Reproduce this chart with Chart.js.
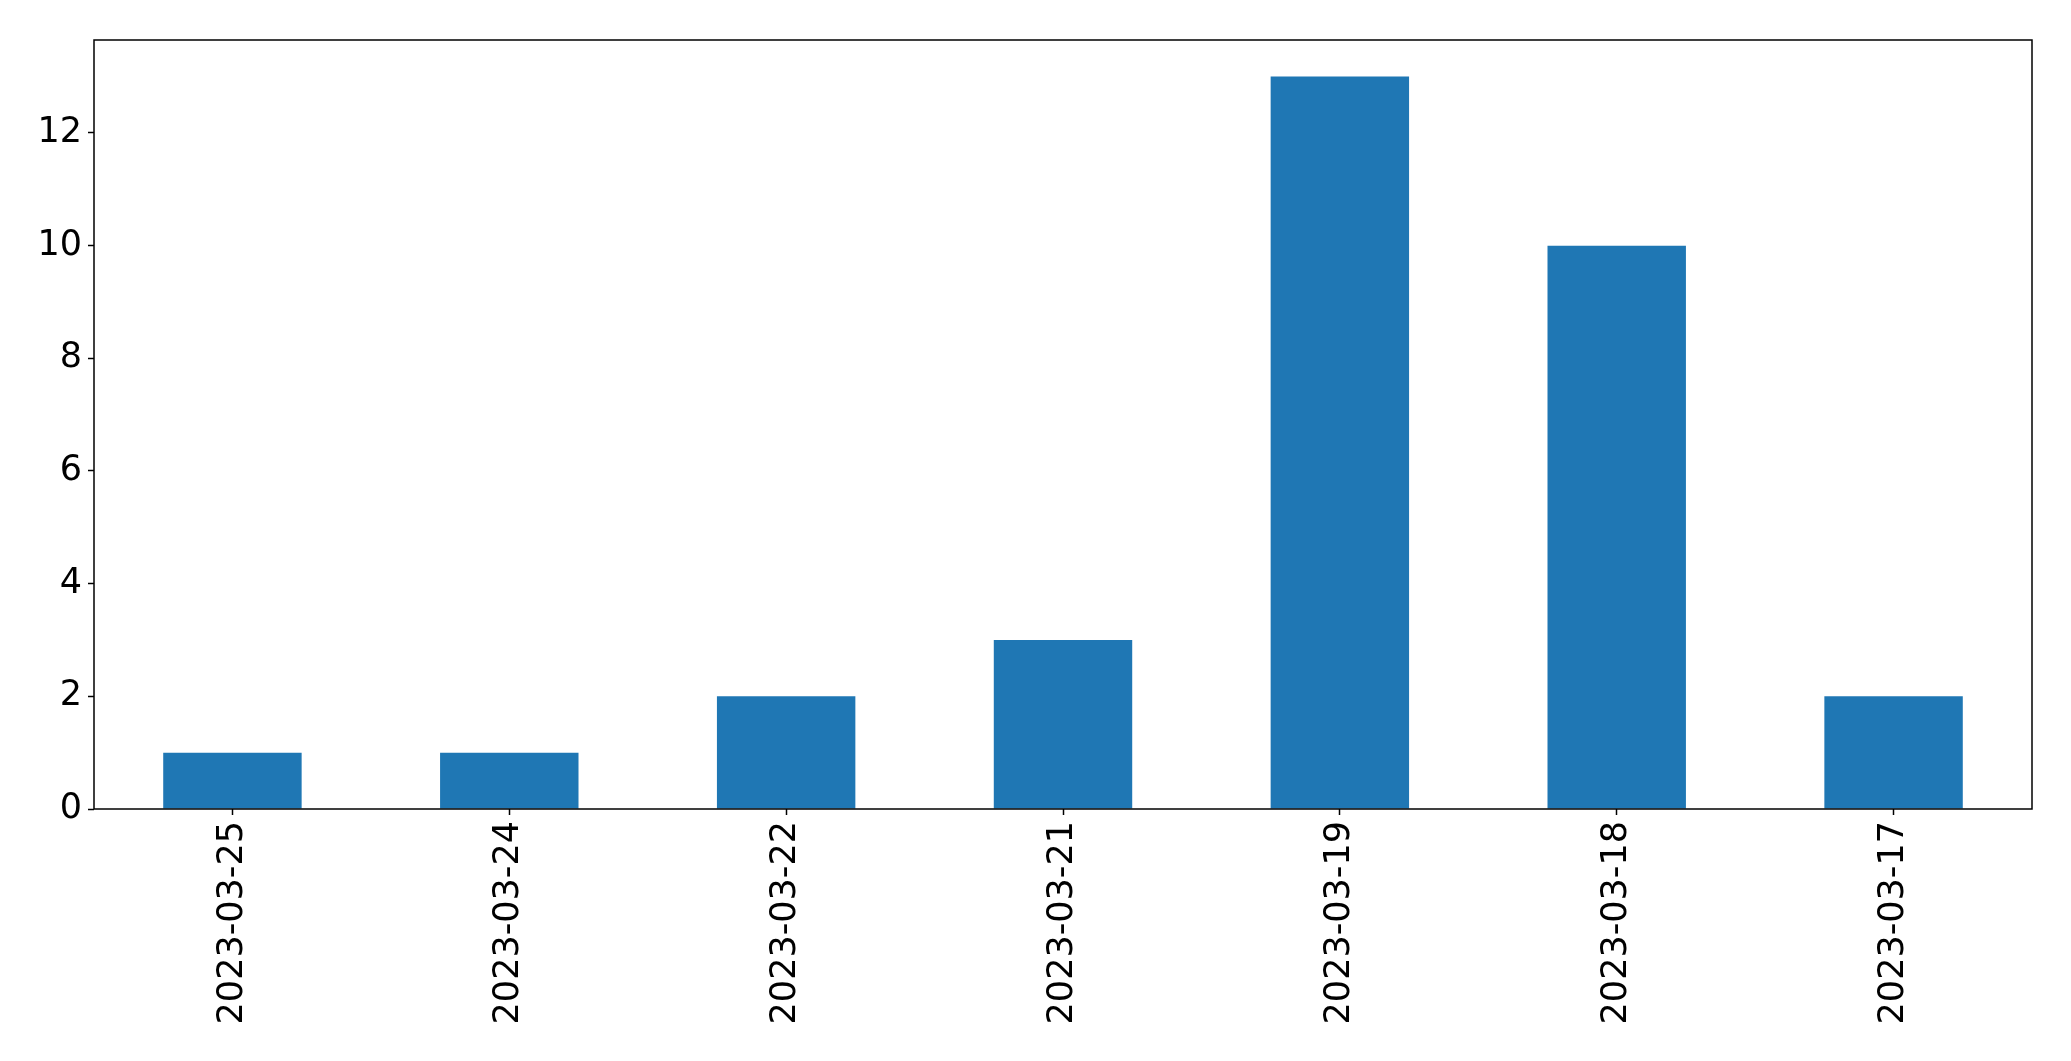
<!DOCTYPE html>
<html>
<head>
<meta charset="utf-8">
<script src="https://cdn.jsdelivr.net/npm/chart.js@4/dist/chart.umd.min.js"></script>
<style>
  html, body { margin: 0; padding: 0; background: #fff; }
  #wrap { width: 2071px; height: 1061px; }
</style>
</head>
<body>
<div id="wrap"><canvas id="myChart"></canvas></div>
<script>
// Chart data
var dates = ["2023-03-25", "2023-03-24", "2023-03-22", "2023-03-21", "2023-03-19", "2023-03-18", "2023-03-17"];
var counts = [1, 1, 2, 3, 13, 10, 2];
var yTicks = [0, 2, 4, 6, 8, 10, 12];

// Draw the box round the plot area
var frame = {
  id: "frame",
  afterDraw: function (chart) {
    var a = chart.chartArea;
    var ctx = chart.ctx;
    ctx.save();
    ctx.strokeStyle = "#000";
    ctx.lineWidth = 1.5;
    ctx.strokeRect(a.left, a.top, a.right - a.left, a.bottom - a.top);
    ctx.restore();
  }
};

var ctx = document.getElementById("myChart").getContext("2d");
var myChart = new Chart(ctx, {
  type: "bar",
  data: {
    labels: dates,
    datasets: [{
      data: counts,
      backgroundColor: "#1f77b4",
      barPercentage: 0.5,
      categoryPercentage: 1.0
    }]
  },
  options: {
    responsive: true,
    maintainAspectRatio: false,
    animation: false,
    layout: { padding: { top: 40, right: 39, left: 0, bottom: 0 } },
    plugins: { legend: { display: false }, tooltip: { enabled: false } },
    scales: {
      x: {
        grid: { offset: false, drawOnChartArea: false, drawTicks: true, tickLength: 6, tickColor: "#000", tickWidth: 1.5 },
        border: { display: false },
        ticks: {
          color: "#000",
          font: { family: "DejaVu Sans", size: 35 },
          maxRotation: 90,
          minRotation: 90,
          padding: 6
        },
        afterFit: function (scale) { scale.height = 252; }
      },
      y: {
        min: 0,
        max: 13.65,
        grid: { drawOnChartArea: false, drawTicks: true, tickLength: 6, tickColor: "#000", tickWidth: 1.5 },
        border: { display: false },
        ticks: {
          color: "#000",
          font: { family: "DejaVu Sans", size: 35 },
          padding: 6
        },
        afterBuildTicks: function (scale) {
          scale.ticks = yTicks.map(function (v) { return { value: v }; });
        },
        afterFit: function (scale) { scale.width = 94; }
      }
    }
  },
  plugins: [frame]
});
</script>
</body>
</html>
